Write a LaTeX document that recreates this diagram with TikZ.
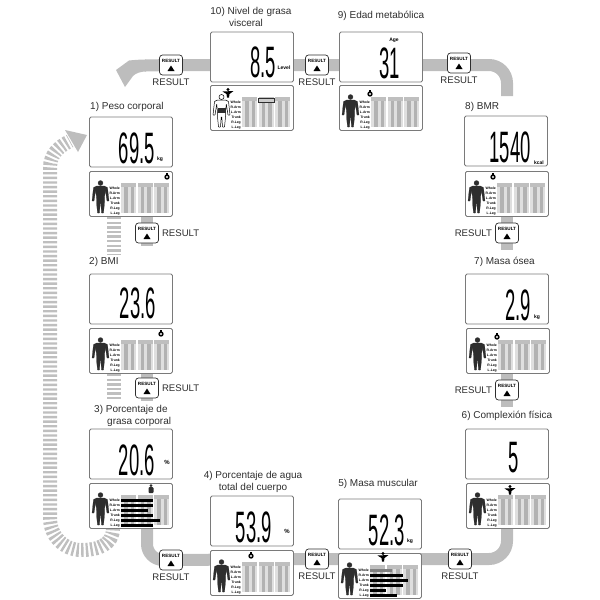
\documentclass[tikz,border=0pt]{standalone}
\usepackage{graphicx}
\usepackage{fontspec}
\setmainfont{Liberation Sans}
\usetikzlibrary{positioning,backgrounds}
\definecolor{bandgray}{HTML}{BDBDBD}
\definecolor{framegray}{HTML}{7A7A7A}
\definecolor{inkgray}{HTML}{2E2E2E}
\newcommand*{\lcd}[1]{\scalebox{.42}[1]{\fontsize{44}{44}\selectfont #1}}
\newcommand*{\scaledisplay}[6]{%
\node[display] (#1) at (#2,#3) {};
\node[lcdtext, anchor=east] (#1-value) at (#5,#6) {\lcd{#4}};
}
\newcommand*{\bodypanel}[4]{%
\node[bodyframe, anchor=north west] (#1) at (#2,#3) {};
\begin{scope}[shift={(#2,#3)}]
\foreach \c in {32,48.5,65} {
	\fill[gray!25] (\c,12) rectangle +(15,30);
	\fill[gray!60] (\c+3,12) rectangle +(3.5,30);
	\fill[gray!60] (\c+9.5,12) rectangle +(3.5,30);
	\fill[gray!50] (\c,12) rectangle +(15,3.5);
}
\foreach \i/\t in {0/Whole,1/R.Arm,2/L.Arm,3/Trunk,4/R.Leg,5/L.Leg} {
	\node[rowtext] (#1-row\i) at (31,17.5+\i*5) {\t};
}
\fill[#4] (11.5,12) circle (2.5);
\filldraw[#4, rounded corners=.4] (7.5,15) -- (15.5,15) -- (18.5,16.5) -- (20,30) -- (18,30) -- (16.3,19) -- (15.5,27) -- (15.5,32) -- (14.5,42) -- (12.5,42) -- (11.8,32) -- (11.2,32) -- (10.5,42) -- (8.5,42) -- (7.5,32) -- (7.5,27) -- (6.7,19) -- (5,30) -- (3,30) -- (4.5,16.5) -- cycle;
\end{scope}
}
\newcommand*{\rowbars}[3]{%
\begin{scope}[shift={(#1,#2)}]
\foreach \i/\e/\k in {#3} {
	\fill[\k] (32,15.6+\i*5) rectangle (\e,19.4+\i*5);
}
\end{scope}
}
\newcommand*{\clockmark}[2]{%
\fill[black] (#1,#2) circle (2.7);
\fill[white] (#1,#2) circle (1.2);
\fill[black] (#1-1,#2-4) rectangle (#1+1,#2-2);
}
\newcommand*{\personmark}[2]{%
\fill[inkgray] (#1,#2-3.5) circle (1.5);
\fill[inkgray, rounded corners=1] (#1-2.5,#2-2) rectangle (#1+2.5,#2+4);
}
\newcommand*{\spreadmark}[2]{%
\fill[black] (#1,#2-3.5) circle (1.6);
\fill[black] (#1-5.5,#2-1.5) -- (#1+5.5,#2-2) -- (#1+1.5,#2+1) -- (#1+1,#2+4.5) -- (#1-1,#2+4.5) -- (#1-1.5,#2+1) -- cycle;
}
\newcommand*{\resultbtn}[4]{%
\node[btnframe] (#1) at (#2,#3) {};
\node[btnword] (#1-word) at ([yshift=4.5pt]#1.center) {RESULT};
\fill[black] ([shift={(-3.5,6)}]#1.center) -- ++(7,0) -- ++(-3.5,-5.5) -- cycle;
\node[btnlabel, #4 #1] (#1-label) {RESULT};
}

\begin{document}
\begin{tikzpicture}[x=1pt,y=-1pt]
	\tikzset{
		band/.style = {bandgray, line width = 12pt},
		ladder/.style = {gray!50, line width = 14pt, dash pattern = on 2.4pt off 2.2pt},
		display/.style = {draw = framegray, fill = white, line width = 0.8pt, rounded corners = 1.5pt, minimum width = 83pt, minimum height = 50pt, inner sep = 0pt},
		bodyframe/.style = {draw = framegray, fill = white, line width = 0.8pt, rounded corners = 1.5pt, minimum width = 83pt, minimum height = 45pt, inner sep = 0pt},
		lcdtext/.style = {inner sep = 0pt, text = black},
		unittext/.style = {inner sep = 0pt, font = \fontsize{5}{5}\selectfont\bfseries},
		rowtext/.style = {anchor = east, inner sep = 0pt, font = \fontsize{3.4}{3.4}\selectfont\bfseries},
		title/.style = {inner sep = 0pt, text = inkgray, font = \fontsize{10}{12}\selectfont},
		btnframe/.style = {draw = inkgray, fill = white, line width = 0.7pt, rounded corners = 3pt, minimum width = 23pt, minimum height = 20pt, inner sep = 0pt},
		btnword/.style = {inner sep = 0pt, font = \fontsize{4.6}{4.6}\selectfont\bfseries},
		btnlabel/.style = {inner sep = 0pt, text = inkgray, font = \fontsize{9.6}{10}\selectfont},
		figsolid/.style = {fill = inkgray, draw = inkgray, line width = 0.2pt},
		figoutline/.style = {fill = white, draw = black, line width = 0.5pt},
	};
	\useasboundingbox (0,0) rectangle (600,600);

	% displays
	\scaledisplay{disp1}{131}{142}{69.5}{155}{148.5}
	\scaledisplay{disp2}{131}{299}{23.6}{156}{303}
	\scaledisplay{disp3}{131}{454}{20.6}{155}{460}
	\scaledisplay{disp4}{252}{521}{53.9}{272}{527}
	\scaledisplay{disp5}{380}{524}{52.3}{405}{530}
	\scaledisplay{disp6}{507}{454}{5}{519}{458}
	\scaledisplay{disp7}{507}{299}{2.9}{531}{305}
	\scaledisplay{disp8}{506}{141}{1540}{531}{147}
	\scaledisplay{disp9}{381}{57}{31}{400}{63}
	\scaledisplay{disp10}{252}{57}{8.5}{276}{62}

	\node[unittext] (unit1) at (160,159) {kg};
	\node[unittext] (unit3) at (167,462) {\fontsize{6}{6}\selectfont\%};
	\node[unittext] (unit4) at (287,531) {\fontsize{6}{6}\selectfont\%};
	\node[unittext] (unit5) at (410,541) {kg};
	\node[unittext] (unit7) at (537,317) {kg};
	\node[unittext] (unit8) at (539,163) {kcal};
	\node[unittext] (unit9) at (394,40) {Age};
	\node[unittext] (unit10) at (284,68) {Level};

	% body panels
	\bodypanel{body1}{89}{171}{figsolid}
	\bodypanel{body2}{89}{328}{figsolid}
	\bodypanel{body3}{89}{483}{figsolid}
	\bodypanel{body4}{210}{550}{figsolid}
	\bodypanel{body5}{338}{553}{figsolid}
	\bodypanel{body6}{466}{483}{figsolid}
	\bodypanel{body7}{466}{328}{figsolid}
	\bodypanel{body8}{465}{171}{figsolid}
	\bodypanel{body9}{339}{85}{figsolid}
	\bodypanel{body10}{210}{85}{figoutline}

	\rowbars{89}{483}{0/64/black,1/64/black,2/59/black,3/64/black,4/71/black,5/64/black}
	\rowbars{338}{553}{0/54/gray,1/65/black,2/70/black,3/65/black,4/48/black,5/59/black}
	\fill[inkgray] (217.5,108) rectangle (225.5,113);
	\draw[inkgray, fill=gray!40, line width=.5pt] (258,98) rectangle (274,102);

	\clockmark{167}{177}
	\clockmark{161}{334}
	\personmark{151}{489}
	\clockmark{251}{556}
	\spreadmark{383}{557}
	\spreadmark{510}{490}
	\clockmark{497}{337}
	\clockmark{493}{177}
	\clockmark{370}{94}
	\spreadmark{228}{93}

	% buttons
	\resultbtn{btn10}{171}{65}{below=3pt of}
	\resultbtn{btn9}{317}{65}{below=3pt of}
	\resultbtn{btn8}{459}{63}{below=3.5pt of}
	\resultbtn{btn7}{507}{233}{left=3pt of}
	\resultbtn{btn6}{507}{390}{left=3pt of}
	\resultbtn{btn5}{460}{559}{below=3pt of}
	\resultbtn{btn4}{317}{559}{below=3pt of}
	\resultbtn{btn3}{171}{560}{below=3pt of}
	\resultbtn{btn2}{147}{388}{right=3pt of}
	\resultbtn{btn1}{147}{233}{right=3pt of}

	% titles
	\node[title, anchor=west] (title1) at (90,107) {1) Peso corporal};
	\node[title, anchor=west] (title2) at (89,262) {2) BMI};
	\node[title, anchor=west, align=left] (title3) at (94,415.5) {3) Porcentaje de\\\hspace*{13pt}grasa corporal};
	\node[title, align=center] (title4) at (253,482) {4) Porcentaje de agua\\total del cuerpo};
	\node[title] (title5) at (378,484) {5) Masa muscular};
	\node[title] (title6) at (507,416) {6) Complexión física};
	\node[title, anchor=west] (title7) at (474,262) {7) Masa ósea};
	\node[title, anchor=west] (title8) at (465,107) {8) BMR};
	\node[title] (title9) at (381,16) {9) Edad metabólica};
	\node[title, align=center] (title10) at (251,17) {10) Nivel de grasa\\visceral\hspace*{10pt}};

	\coordinate (bend8) at (507,96);
	\coordinate (bandneck) at (145,65.5);
	\coordinate (laddertop) at (70,141);
	\coordinate (ladderfoot) at (113,528);
	\coordinate (ladderone) at (113.5,217);
	\coordinate (ladderone-end) at (113.5,254);
	\coordinate (laddertwo) at (113.5,374);
	\coordinate (laddertwo-end) at (113.5,400);

	% gray bands behind everything
	\begin{scope}[on background layer]
		\draw[band] (bandneck) -- (btn10.center) -- (btn9.center) -- (btn8.center |- btn9.center);
		\draw[band, rounded corners=18pt] (btn8.center |- btn9.center) -| (bend8);
		\draw[band] (body8.south -| btn7) -- ([yshift=-7pt]btn7.south);
		\draw[band] (body7.south -| btn6) -- ([yshift=-7pt]btn6.south);
		\draw[band, rounded corners=18pt] (body6.south -| bend8) |- (btn5.center);
		\draw[band] (btn5.center) -- (btn4.center) -- (btn3.center);
		\draw[band, rounded corners=16pt] (btn3.center) -| (body3.south -| btn2);
		\draw[band] (body1.south -| btn1) -- ([yshift=-3pt]btn1.south);
		\draw[band] (body2.south -| btn2) -- ([yshift=-3pt]btn2.south);
		\fill[bandgray] (116,70) -- (129,60.5) .. controls (134,60) and (140,59.5) .. (146,59.5) -- (146,71.5) .. controls (141,71.5) and (136,73) .. (133,76) -- (125,87) -- cycle;
		\draw[ladder] (ladderone) -- (ladderone-end);
		\draw[ladder] (laddertwo) -- (laddertwo-end);
		\draw[ladder] (ladderfoot) .. controls (113,545) and (98,550) .. (81,550) .. controls (64,550) and (50,536) .. (50,518) -- (50,168) .. controls (50,155) and (58,147) .. (laddertop);
		\fill[bandgray] (87,135) -- (65,130) -- (78,152) -- cycle;
	\end{scope}
\end{tikzpicture}
\end{document}
